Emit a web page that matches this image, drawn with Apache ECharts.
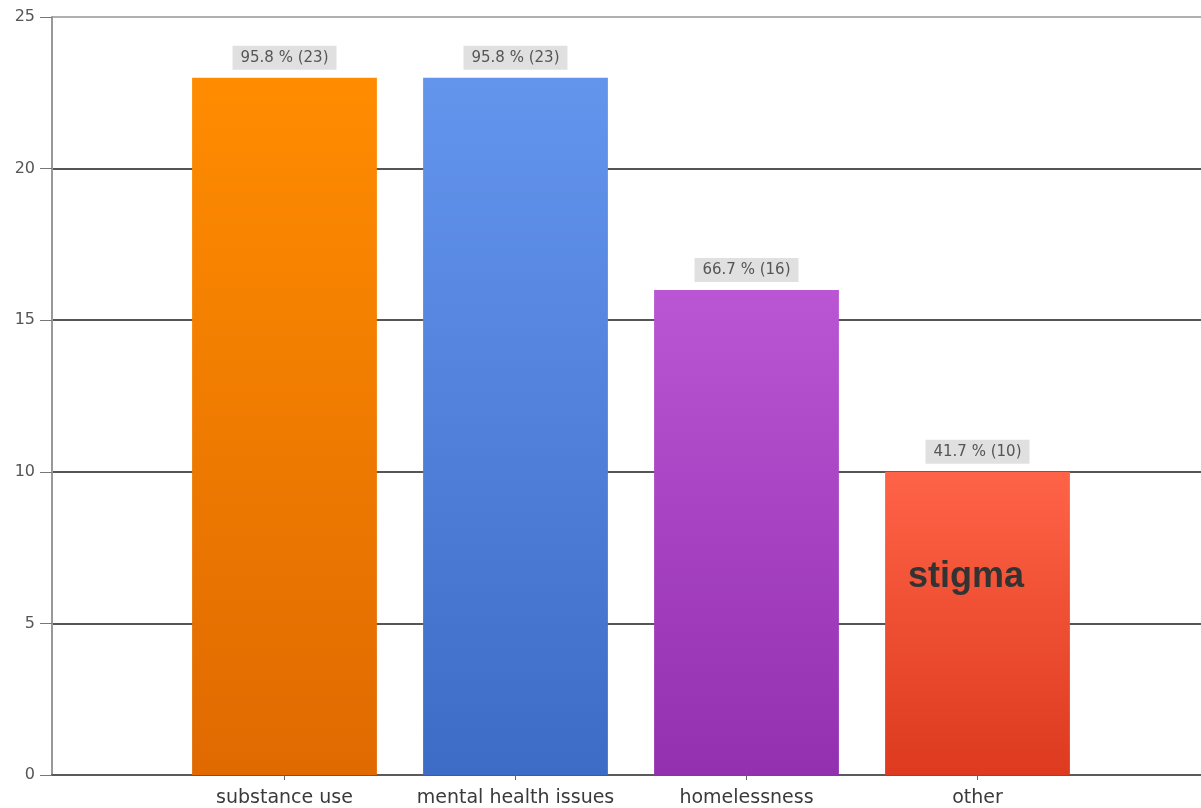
<!DOCTYPE html>
<html>
<head>
<meta charset="utf-8">
<script src="https://cdn.jsdelivr.net/npm/echarts@6/dist/echarts.min.js"></script>
<style>
html,body{margin:0;padding:0;background:#fff;}
#main{width:1201px;height:808px;}
</style>
</head>
<body>
<div id="main"></div>
<script>
const categories = ['substance use', 'mental health issues', 'homelessness', 'other'];
const counts = [23, 23, 16, 10];
const percents = [95.8, 95.8, 66.7, 41.7];
const yTicks = [0, 5, 10, 15, 20, 25];
const barColors = [
  ['#FF8C00', '#E06A00'],
  ['#6495ED', '#3D6CC7'],
  ['#BA55D3', '#9330B0'],
  ['#FF6347', '#DD3A1F']
];
const annotation = 'stigma';

const chart = echarts.init(document.getElementById('main'), null, {renderer: 'canvas'});
const font = '"DejaVu Sans", sans-serif';

const barData = counts.map((v, i) => ({
  value: v,
  itemStyle: {
    color: new echarts.graphic.LinearGradient(0, 0, 0, 1, [
      {offset: 0, color: barColors[i][0]},
      {offset: 1, color: barColors[i][1]}
    ])
  }
}));

const option = {
  animation: false,
  backgroundColor: '#ffffff',
  grid: [
    {left: 52, right: 0, top: 17, bottom: 33, containLabel: false},
    {left: 169, width: 924, top: 17, bottom: 33, containLabel: false}
  ],
  xAxis: [
    {
      gridIndex: 0, type: 'value', min: 0, max: 1,
      axisLine: {show: true, lineStyle: {color: '#5a5a5a', width: 2}},
      axisTick: {show: false}, axisLabel: {show: false}, splitLine: {show: false}
    },
    {
      gridIndex: 1, type: 'category', data: categories,
      axisLine: {show: false},
      axisTick: {show: true, alignWithLabel: true, interval: 0, length: 5, lineStyle: {color: '#666'}},
      axisLabel: {interval: 0, hideOverlap: false, fontSize: 19, color: '#3a3a3a', fontFamily: font, margin: 14},
      splitLine: {show: false}
    }
  ],
  yAxis: [
    {
      gridIndex: 0, type: 'value', min: yTicks[0], max: yTicks[yTicks.length - 1], interval: 5,
      axisLine: {show: true, lineStyle: {color: '#999', width: 2}},
      axisTick: {show: true, length: 12, lineStyle: {color: '#777', width: 1}},
      axisLabel: {fontSize: 16, color: '#555', fontFamily: font, margin: 17},
      splitLine: {show: true, lineStyle: {color: ['#555', '#555', '#555', '#555', '#555', '#b0b0b0'], width: 2}}
    },
    {
      gridIndex: 1, type: 'value', min: yTicks[0], max: yTicks[yTicks.length - 1], interval: 5,
      show: false
    }
  ],
  series: [
    {
      type: 'bar', xAxisIndex: 1, yAxisIndex: 1,
      data: barData,
      barCategoryGap: '20%',
      z: 3,
      label: {
        show: true, position: 'top', distance: 8,
        fontSize: 15, color: '#555', fontFamily: font,
        backgroundColor: '#e0e0e0', padding: [5, 8, 4, 8],
        formatter: p => percents[p.dataIndex].toFixed(1) + ' % (' + counts[p.dataIndex] + ')'
      }
    }
  ],
  graphic: [
    {
      type: 'text', left: 908, top: 559, z: 10,
      style: {text: annotation, fontSize: 36, fontWeight: 'bold', fill: '#333', fontFamily: '"Liberation Sans", Arial, sans-serif'}
    }
  ]
};
chart.setOption(option);
</script>
</body>
</html>
